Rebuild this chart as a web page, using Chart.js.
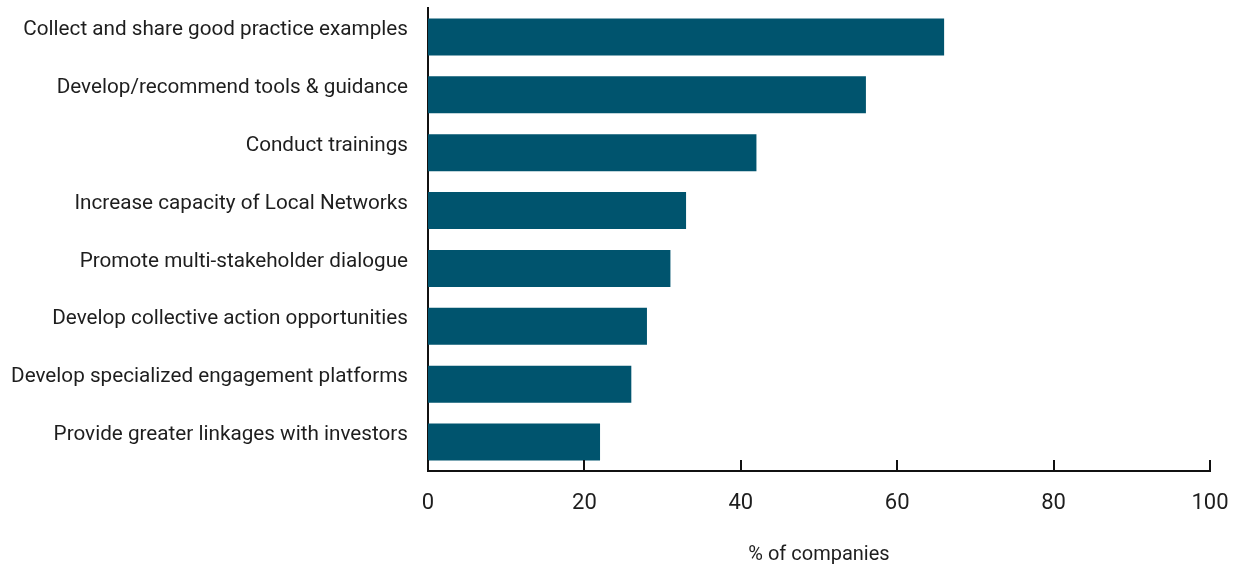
<!DOCTYPE html>
<html><head><meta charset="utf-8">
<script src="https://cdn.jsdelivr.net/npm/chart.js@4.4.1/dist/chart.umd.min.js"></script>
<style>html,body{margin:0;padding:0;background:#fff;}#wrap{width:1243px;height:567px;}</style>
</head><body><div id="wrap"><canvas id="c" width="1243" height="567"></canvas></div>
<script>
const categories = [
  "Collect and share good practice examples",
  "Develop/recommend tools & guidance",
  "Conduct trainings",
  "Increase capacity of Local Networks",
  "Promote multi-stakeholder dialogue",
  "Develop collective action opportunities",
  "Develop specialized engagement platforms",
  "Provide greater linkages with investors"
];
const values = [66, 56, 42, 33, 31, 28, 26, 22];
const xTicks = [0, 20, 40, 60, 80, 100];
const xTitle = "% of companies";

const tickMarks = {
  id: 'tickMarks',
  afterDraw(chart) {
    const ctx = chart.ctx, xs = chart.scales.x, bottom = chart.chartArea.bottom;
    ctx.save();
    ctx.strokeStyle = '#111';
    ctx.lineWidth = 2;
    xTicks.forEach(v => {
      const px = Math.round(xs.getPixelForValue(v));
      ctx.beginPath();
      ctx.moveTo(px, bottom + 1);
      ctx.lineTo(px, bottom - 11);
      ctx.stroke();
    });
    ctx.restore();
  }
};

new Chart(document.getElementById('c'), {
  type: 'bar',
  data: { labels: categories, datasets: [{ data: values, backgroundColor: '#00546E', barPercentage: 1, categoryPercentage: 0.64 }] },
  options: {
    indexAxis: 'y',
    responsive: false,
    animation: false,
    layout: { padding: { left: 0, right: 33, top: 8, bottom: 0 } },
    plugins: { legend: { display: false }, tooltip: { enabled: false } },
    scales: {
      x: {
        min: 0, max: 100,
        afterBuildTicks(s) { s.ticks = xTicks.map(v => ({ value: v })); },
        afterFit(s) { s.height = 96; s.paddingLeft = 0; s.paddingRight = 0; },
        grid: { display: false, drawTicks: false },
        border: { display: true, color: '#111', width: 2 },
        ticks: { padding: 19, color: '#1e1e1e', font: { family: 'Roboto', size: 22 } },
        title: { display: true, text: xTitle, color: '#1e1e1e', font: { family: 'Roboto', size: 20 }, padding: { top: 24, bottom: 0 } }
      },
      y: {
        afterFit(s) { s.width = 428; s.paddingTop = 0; s.paddingBottom = 0; },
        grid: { display: false, drawTicks: false },
        border: { display: true, color: '#111', width: 2 },
        ticks: { padding: 20, labelOffset: -7, color: '#1e1e1e', font: { family: 'Roboto', size: 20.7 } }
      }
    }
  },
  plugins: [tickMarks]
});
</script></body></html>
